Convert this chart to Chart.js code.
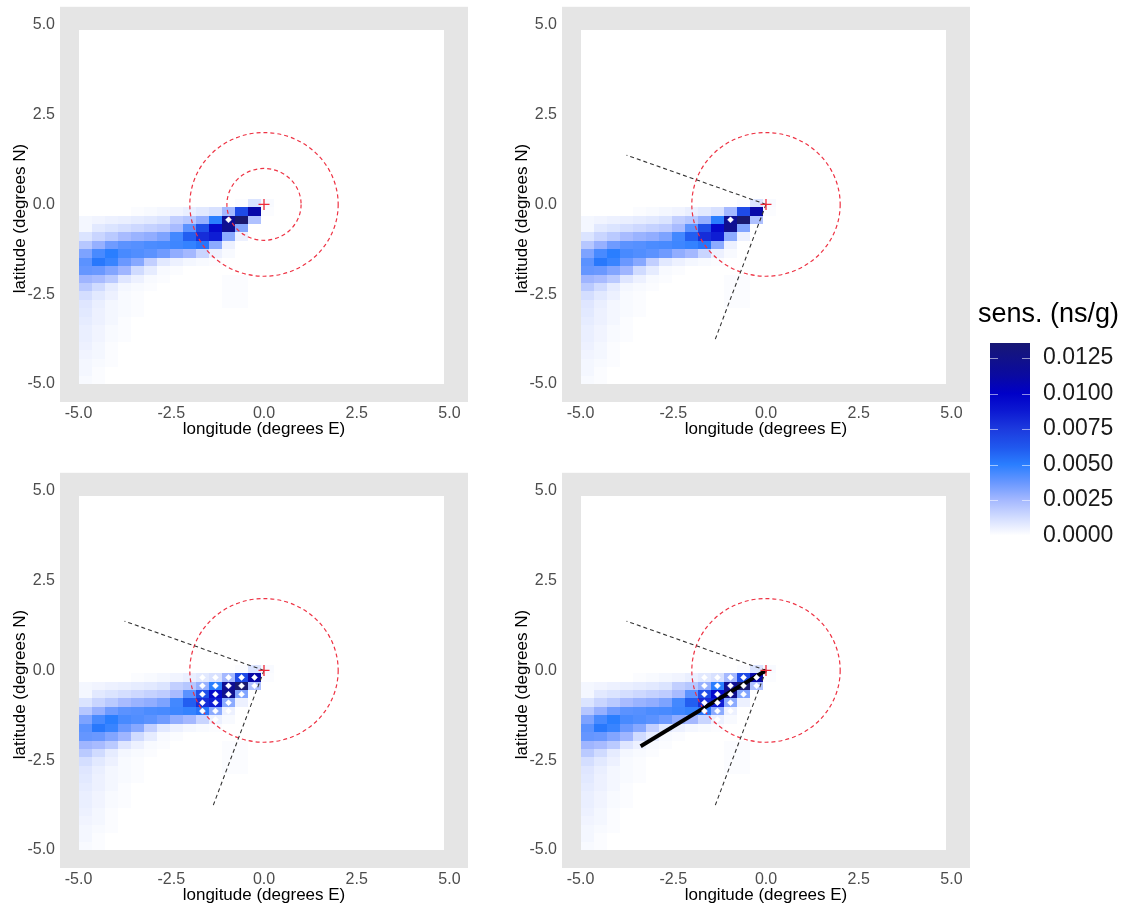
<!DOCTYPE html>
<html>
<head>
<meta charset="utf-8">
<script src="https://cdn.jsdelivr.net/npm/chart.js@4.4.1/dist/chart.umd.min.js"></script>
<style>
  body { margin: 0; background: #fff; width: 1125px; height: 908px; position: relative; overflow: hidden; }
  .box { position: absolute; }
</style>
</head>
<body>
<div class="box" style="left:0;top:0;width:480px;height:440px"><canvas id="p1"></canvas></div>
<div class="box" style="left:502px;top:0;width:480px;height:440px"><canvas id="p2"></canvas></div>
<div class="box" style="left:0;top:466px;width:480px;height:440px"><canvas id="p3"></canvas></div>
<div class="box" style="left:502px;top:466px;width:480px;height:440px"><canvas id="p4"></canvas></div>
<div class="box" style="left:978px;top:290px;width:147px;height:260px"><canvas id="legend"></canvas></div>
<script>
// model grid of the sensitivity field
const lonStart = -5, lonStep = 0.3515625, lonCount = 28;
const latStart = -5, latStep = 0.234375, latCount = 42;

// sensitivity in 1e-4 ns/g, first row is grid row 21 (north) going south, columns from the west edge
const sensUnit = 1e-4;
const sensTopRow = 21;
const sensRows = [
  [0, 0, 0, 0, 0, 0, 0, 0, 0, 0, 0, 0, 1, 10, 2],
  [0, 0, 0, 0, 1, 2, 3, 4, 6, 8, 11, 25, 68, 110, 1],
  [3, 4, 5, 6, 7, 8, 10, 17, 20, 28, 50, 120, 138, 22],
  [3, 8, 10, 12, 14, 16, 18, 24, 40, 66, 95, 122, 32],
  [10, 15, 19, 24, 27, 29, 33, 45, 60, 80, 86, 30, 5],
  [20, 28, 36, 40, 41, 43, 44, 46, 48, 53, 30, 5],
  [33, 44, 50, 44, 42, 40, 36, 29, 25, 15, 5, 2],
  [40, 52, 47, 37, 31, 17, 8, 5, 3, 2, 1],
  [38, 37, 32, 26, 13, 7, 2, 1],
  [26, 24, 19, 9, 5, 2, 1, 0, 0, 0, 0, 1, 1],
  [19, 13, 7, 3, 2, 1, 0, 0, 0, 0, 0, 1, 1],
  [12, 8, 5, 2, 1, 0, 0, 0, 0, 0, 0, 1, 1],
  [9, 6, 3, 2, 1, 0, 0, 0, 0, 0, 0, 1, 1],
  [8, 5, 3, 2, 1],
  [7, 5, 3, 1],
  [6, 4, 2, 1],
  [6, 4, 2, 1],
  [5, 3, 1],
  [4, 3, 1],
  [3, 2, 1],
  [3, 1],
  [2, 1]
];

// colour scale of the field
const stopValues = [0, 0.0012, 0.0025, 0.0037, 0.005, 0.0062, 0.0075, 0.0088, 0.01, 0.0113, 0.0138];
const stopColors = ['#ffffff', '#d4deff', '#a4b8ff', '#6a98ff', '#2a7eff', '#2058ee', '#1c3ade', '#0c18d2', '#0000c8', '#0a0aa0', '#191970'];
const legendMax = 0.01377;
const legendTicks = [0, 0.0025, 0.005, 0.0075, 0.01, 0.0125];

// overlays
const axisTicks = [-5, -2.5, 0, 2.5, 5];
const receptor = [0, 0];
const sourceCell = [[11, 19]];
const sectorCells = [
  [9, 20], [10, 20], [11, 20], [12, 20], [13, 20],
  [9, 19], [10, 19], [11, 19], [12, 19], [13, 19],
  [9, 18], [10, 18], [11, 18], [12, 18],
  [9, 17], [10, 17], [11, 17],
  [9, 16], [10, 16], [11, 16],
  [10, 15]
];
const sectorEdgeA = [[0, 0], [-3.76, 1.37]];
const sectorEdgeB = [[0, 0], [-1.37, -3.76]];
const meanPath = [[0, 0], [-3.38, -2.11]];

const fontFamily = '"Liberation Sans", Arial, Helvetica, sans-serif';
Chart.defaults.font.family = fontFamily;

function hexToRgb(h) {
  return [parseInt(h.slice(1, 3), 16), parseInt(h.slice(3, 5), 16), parseInt(h.slice(5, 7), 16)];
}

function sensColor(v) {
  if (v <= stopValues[0]) return stopColors[0];
  for (let i = 1; i < stopValues.length; i++) {
    if (v <= stopValues[i]) {
      const t = (v - stopValues[i - 1]) / (stopValues[i] - stopValues[i - 1]);
      const a = hexToRgb(stopColors[i - 1]), b = hexToRgb(stopColors[i]);
      const c = a.map((ch, k) => Math.round(ch + (b[k] - ch) * t));
      return 'rgb(' + c.join(',') + ')';
    }
  }
  return stopColors[stopColors.length - 1];
}

const cellCentre = ([c, r]) => ({ x: lonStart + (c + 0.5) * lonStep, y: latStart + (r + 0.5) * latStep });
const toPoints = arr => arr.map(([x, y]) => ({ x: x, y: y }));

// no extra room for tick labels hanging past the axis ends
function noOverhang(s) {
  s.paddingTop = 0; s.paddingBottom = 0; s.paddingLeft = 0; s.paddingRight = 0;
}

// grey panel, raster cells and the dashed range rings
const heatmapPlugin = {
  id: 'heatmap',
  beforeDatasetsDraw(chart, args, opts) {
    const { ctx, chartArea, scales: { x, y } } = chart;
    ctx.save();
    ctx.fillStyle = '#e5e5e5';
    ctx.fillRect(chartArea.left, chartArea.top, chartArea.width, chartArea.height);
    ctx.beginPath();
    ctx.rect(chartArea.left, chartArea.top, chartArea.width, chartArea.height);
    ctx.clip();

    const xl = Math.round(x.getPixelForValue(lonStart));
    const xr = Math.round(x.getPixelForValue(lonStart + lonCount * lonStep));
    const yb = Math.round(y.getPixelForValue(latStart));
    const yt = Math.round(y.getPixelForValue(latStart + latCount * latStep));
    ctx.fillStyle = '#ffffff';
    ctx.fillRect(xl, yt, xr - xl, yb - yt);

    sensRows.forEach((vals, k) => {
      const row = sensTopRow - k;
      const y0 = Math.round(y.getPixelForValue(latStart + (row + 1) * latStep));
      const y1 = Math.round(y.getPixelForValue(latStart + row * latStep));
      vals.forEach((v, col) => {
        if (!v) return;
        const x0 = Math.round(x.getPixelForValue(lonStart + col * lonStep));
        const x1 = Math.round(x.getPixelForValue(lonStart + (col + 1) * lonStep));
        ctx.fillStyle = sensColor(v * sensUnit);
        ctx.fillRect(x0, y0, x1 - x0, y1 - y0);
      });
    });

    const cx = x.getPixelForValue(receptor[0]);
    const cy = y.getPixelForValue(receptor[1]);
    ctx.strokeStyle = '#ee3344';
    ctx.lineWidth = 1.2;
    ctx.setLineDash([4, 3]);
    (opts.rings || []).forEach(r => {
      const rx = x.getPixelForValue(receptor[0] + r) - cx;
      const ry = cy - y.getPixelForValue(receptor[1] + r);
      ctx.beginPath();
      ctx.ellipse(cx, cy, rx, ry, 0, 0, Math.PI * 2);
      ctx.stroke();
    });
    ctx.restore();
  }
};

const panels = [
  { id: 'p1', rings: [1, 2], cells: sourceCell, sector: false, path: false },
  { id: 'p2', rings: [2], cells: sourceCell, sector: true, path: false },
  { id: 'p3', rings: [2], cells: sectorCells, sector: true, path: false },
  { id: 'p4', rings: [2], cells: sectorCells, sector: true, path: true }
];

function dashedEdge(pts) {
  return {
    data: toPoints(pts), showLine: true, pointRadius: 0,
    borderColor: '#333333', borderWidth: 1.1, borderDash: [4, 3]
  };
}

panels.forEach(p => {
  const datasets = [
    {
      data: toPoints([receptor]), pointStyle: 'cross', pointRadius: 5.5,
      borderColor: '#ee2a3a', borderWidth: 1.3
    },
    {
      data: p.cells.map(cellCentre), pointStyle: 'rectRot', pointRadius: 3,
      backgroundColor: '#ffffff', borderColor: '#ffffff', borderWidth: 0.5
    }
  ];
  if (p.path) {
    datasets.push({
      data: toPoints(meanPath), showLine: true, pointRadius: 0,
      borderColor: '#000000', borderWidth: 4
    });
  }
  if (p.sector) {
    datasets.push(dashedEdge(sectorEdgeA));
    datasets.push(dashedEdge(sectorEdgeB));
  }

  new Chart(document.getElementById(p.id), {
    type: 'scatter',
    data: { datasets: datasets },
    options: {
      responsive: true,
      maintainAspectRatio: false,
      animation: false,
      layout: { padding: { left: 0, right: 12, top: 5, bottom: 0 } },
      plugins: {
        legend: { display: false },
        tooltip: { enabled: false },
        heatmap: { rings: p.rings }
      },
      scales: {
        x: {
          type: 'linear', min: -5.5, max: 5.5,
          grid: { display: false, drawTicks: false },
          border: { display: false },
          afterBuildTicks: s => { s.ticks = axisTicks.map(v => ({ value: v })); },
          afterFit: s => { s.height = 38; noOverhang(s); },
          ticks: { padding: 2, color: '#4d4d4d', font: { size: 16 }, maxRotation: 0, callback: v => v.toFixed(1) },
          title: { display: true, text: 'longitude (degrees E)', color: '#000', font: { size: 17 }, padding: 0 }
        },
        y: {
          type: 'linear', min: -5.5, max: 5.5,
          grid: { display: false, drawTicks: false },
          border: { display: false },
          afterBuildTicks: s => { s.ticks = axisTicks.map(v => ({ value: v })); },
          afterFit: s => { s.width = 60; noOverhang(s); },
          ticks: { padding: 5, color: '#4d4d4d', font: { size: 16 }, callback: v => v.toFixed(1) },
          title: { display: true, text: 'latitude (degrees N)      ', color: '#000', font: { size: 17 }, padding: { top: 10, bottom: 0 } }
        }
      }
    },
    plugins: [heatmapPlugin]
  });
});

// colour bar
const barTicks = {
  id: 'barTicks',
  afterDatasetsDraw(chart) {
    const { ctx, chartArea, scales: { y } } = chart;
    ctx.save();
    ctx.strokeStyle = 'rgba(255,255,255,0.55)';
    ctx.lineWidth = 1;
    legendTicks.forEach(v => {
      if (v <= 0) return;
      const py = Math.round(y.getPixelForValue(v)) + 0.5;
      ctx.beginPath();
      ctx.moveTo(chartArea.left, py); ctx.lineTo(chartArea.left + 8, py);
      ctx.moveTo(chartArea.right - 8, py); ctx.lineTo(chartArea.right, py);
      ctx.stroke();
    });
    ctx.restore();
  }
};

new Chart(document.getElementById('legend'), {
  type: 'bar',
  data: {
    labels: [''],
    datasets: [{
      data: [[0, legendMax]],
      barPercentage: 1,
      categoryPercentage: 1,
      borderWidth: 0,
      backgroundColor: ctx => {
        const chart = ctx.chart;
        if (!chart.chartArea) return stopColors[0];
        const ys = chart.scales.y;
        const g = chart.ctx.createLinearGradient(0, ys.getPixelForValue(0), 0, ys.getPixelForValue(legendMax));
        stopValues.forEach((v, i) => g.addColorStop(Math.min(v / legendMax, 1), stopColors[i]));
        return g;
      }
    }]
  },
  options: {
    responsive: true,
    maintainAspectRatio: false,
    animation: false,
    layout: { padding: { left: 0, right: 0, top: 0, bottom: 14.5 } },
    plugins: {
      legend: { display: false },
      tooltip: { enabled: false },
      title: {
        display: true, align: 'start', text: 'sens. (ns/g)', color: '#000',
        font: { size: 27, weight: 'normal' }, padding: { top: 8.8, bottom: 8.8 }
      }
    },
    scales: {
      x: { display: false },
      gap: {
        position: 'left', display: true,
        grid: { display: false, drawTicks: false },
        border: { display: false },
        ticks: { display: false },
        afterFit: s => { s.width = 12; noOverhang(s); }
      },
      y: {
        position: 'right', min: 0, max: legendMax,
        grid: { display: false, drawTicks: false },
        border: { display: false },
        afterBuildTicks: s => { s.ticks = legendTicks.map(v => ({ value: v })); },
        afterFit: s => { s.width = 95; noOverhang(s); },
        ticks: { padding: 13, color: '#1a1a1a', font: { size: 23 }, callback: v => v.toFixed(4) }
      }
    }
  },
  plugins: [barTicks]
});
</script>
</body>
</html>
